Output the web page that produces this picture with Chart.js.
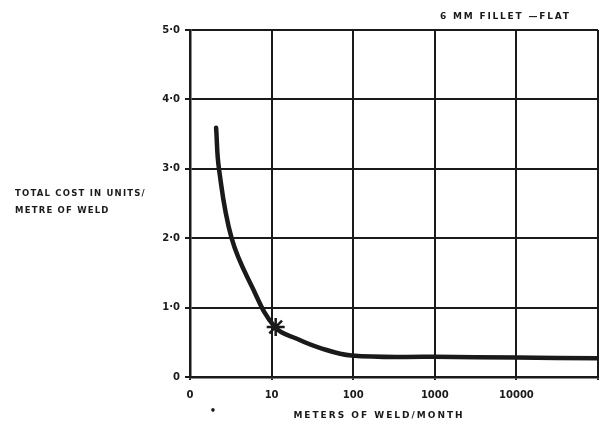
<!DOCTYPE html>
<html>
<head>
<meta charset="utf-8">
<script src="https://cdn.jsdelivr.net/npm/chart.js"></script>
<style>
  html, body { margin: 0; padding: 0; background: #fff; }
  #wrap { width: 600px; height: 425px; position: relative; }
</style>
</head>
<body>
<div id="wrap"><canvas id="chart"></canvas></div>
<script>
// x positions are decade steps: 0 -> "0", 1 -> "10", 2 -> "100" ...
const xTickLabels = ['0', '10', '100', '1000', '10000', ''];
const yTickLabels = ['0', '1·0', '2·0', '3·0', '4·0', '5·0'];

// cost curve
const curveX = [0.32, 0.355, 0.51, 0.76, 1.04, 1.31, 1.59, 1.98, 3.0, 4.0, 5.0];
const curveY = [3.59, 3.00, 2.00, 1.30, 0.72, 0.55, 0.42, 0.31, 0.29, 0.28, 0.27];

// the marked point
const markX = [1.05];
const markY = [0.72];

const ink = '#1a1a1a';
const tickFont = { family: 'DejaVu Sans', size: 10, weight: 'bold' };

// free text round the plot
const textPlugin = {
  id: 'freeText',
  afterDraw(chart) {
    const ctx = chart.ctx;
    ctx.save();
    ctx.fillStyle = ink;
    ctx.textBaseline = 'middle';
    ctx.textAlign = 'left';
    ctx.font = 'bold 9px "DejaVu Sans"';
    ctx.letterSpacing = '1.8px';
    ctx.fillText('6 MM FILLET —FLAT', 440, 17);
    ctx.font = 'bold 8.5px "DejaVu Sans"';
    ctx.letterSpacing = '1.2px';
    ctx.fillText('TOTAL COST IN UNITS/', 15, 194);
    ctx.fillText('METRE OF WELD', 15, 211);
    ctx.textAlign = 'center';
    ctx.font = 'bold 9px "DejaVu Sans"';
    ctx.letterSpacing = '2px';
    ctx.fillText('METERS OF WELD/MONTH', 379, 416);
    ctx.letterSpacing = '0px';
    ctx.font = 'bold 10px "DejaVu Sans"';
    ctx.fillText('•', 213, 411);
    ctx.restore();
  }
};

new Chart(document.getElementById('chart'), {
  type: 'line',
  data: {
    datasets: [
      {
        data: curveX.map((x, i) => ({ x: x, y: curveY[i] })),
        borderColor: ink,
        borderWidth: 4.5,
        pointRadius: 0,
        tension: 0.4,
        borderCapStyle: 'round'
      },
      {
        data: markX.map((x, i) => ({ x: x, y: markY[i] })),
        showLine: false,
        pointStyle: 'star',
        pointRadius: 9,
        pointBorderWidth: 2.5,
        pointBorderColor: ink,
        pointBackgroundColor: ink
      }
    ]
  },
  plugins: [textPlugin],
  options: {
    responsive: true,
    maintainAspectRatio: false,
    animation: false,
    layout: { autoPadding: false, padding: { left: 0, right: 2, top: 30, bottom: 0 } },
    plugins: {
      legend: { display: false },
      tooltip: { enabled: false }
    },
    scales: {
      x: {
        type: 'linear',
        min: 0,
        max: 5,
        afterFit: s => { s.height = 48; s.paddingLeft = 0; s.paddingRight = 0; },
        afterBuildTicks: s => { s.ticks = xTickLabels.map((_, i) => ({ value: i })); },
        ticks: {
          color: ink,
          font: tickFont,
          padding: 9,
          maxRotation: 0,
          callback: v => xTickLabels[v]
        },
        grid: { color: ink, lineWidth: 2, tickLength: 3 },
        border: { color: ink, width: 2.5 }
      },
      y: {
        type: 'linear',
        min: 0,
        max: 5,
        afterFit: s => { s.width = 190; s.paddingTop = 0; s.paddingBottom = 0; },
        afterBuildTicks: s => { s.ticks = yTickLabels.map((_, i) => ({ value: i })); },
        ticks: {
          color: ink,
          font: tickFont,
          padding: 5,
          callback: v => yTickLabels[v]
        },
        grid: { color: ink, lineWidth: 2, tickLength: 5 },
        border: { color: ink, width: 2.5 }
      }
    }
  }
});
</script>
</body>
</html>
